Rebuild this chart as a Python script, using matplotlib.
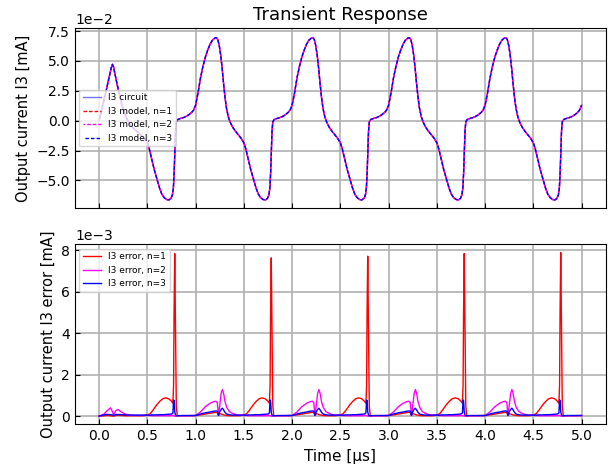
import numpy as np
import matplotlib
matplotlib.use("Agg")
import matplotlib.pyplot as plt
from matplotlib.ticker import MultipleLocator

# ---------------- data ----------------
# Output current I3 in units of 1e-2 mA; time in microseconds
first_cycle_t = [0.0, 0.035, 0.07, 0.10, 0.125, 0.138, 0.15, 0.175, 0.205, 0.24, 0.28,
                 0.32, 0.37, 0.42, 0.47, 0.50, 0.52, 0.545, 0.57, 0.60, 0.625, 0.65,
                 0.675, 0.70, 0.725, 0.745, 0.76, 0.77, 0.778, 0.785, 0.792, 0.80,
                 0.815, 0.84, 0.87, 0.90, 0.93, 0.96, 0.98]
first_cycle_i3 = [0.0, 1.2, 2.4, 3.5, 4.4, 4.72, 4.5, 3.5, 2.36, 1.2, 0.3,
                  -0.3, -0.75, -1.1, -1.5, -1.85, -2.35, -3.2, -4.05, -4.9, -5.6, -6.15,
                  -6.45, -6.6, -6.63, -6.5, -6.2, -5.6, -4.3, -2.5, -0.9, -0.1,
                  0.1, 0.18, 0.25, 0.35, 0.5, 0.7, 0.9]

cycle_phase = [0.0, 0.025, 0.05, 0.075, 0.10, 0.125, 0.15, 0.175, 0.20, 0.215, 0.23,
               0.245, 0.26, 0.275, 0.29, 0.305, 0.32, 0.34, 0.36, 0.385, 0.41, 0.44,
               0.47, 0.50, 0.52, 0.545, 0.57, 0.60, 0.625, 0.65, 0.675, 0.70, 0.725,
               0.745, 0.76, 0.77, 0.778, 0.785, 0.792, 0.80, 0.815, 0.84, 0.87, 0.90,
               0.93, 0.96, 0.98]
cycle_i3 = [1.3, 2.3, 3.55, 4.5, 5.3, 5.9, 6.4, 6.75, 6.92, 6.95, 6.8,
            6.3, 5.5, 4.4, 3.1, 1.95, 1.05, 0.3, -0.15, -0.55, -0.85, -1.15,
            -1.45, -1.85, -2.35, -3.2, -4.05, -4.9, -5.6, -6.15, -6.45, -6.6, -6.63,
            -6.5, -6.2, -5.6, -4.3, -2.5, -0.9, -0.1, 0.1, 0.18, 0.25, 0.35,
            0.5, 0.7, 0.9]
cycle_starts = [1.0, 2.0, 3.0, 4.0]
end_t = 5.0
end_i3 = 1.3

# Errors in units of 1e-3 mA
err_first_t = [0.0, 0.05, 0.08, 0.10, 0.12, 0.14, 0.15, 0.17, 0.196, 0.23, 0.27, 0.32,
               0.40, 0.45]
err1_first = [0.0, 0.02, 0.03, 0.03, 0.02, 0.01, 0.0, 0.03, 0.04, 0.03, 0.02, 0.02,
              0.02, 0.02]
err2_first = [0.0, 0.1, 0.25, 0.33, 0.4, 0.2, 0.05, 0.25, 0.32, 0.2, 0.1, 0.05,
              0.03, 0.03]
err3_first = [0.0, 0.06, 0.08, 0.08, 0.07, 0.05, 0.03, 0.07, 0.08, 0.07, 0.06, 0.05,
              0.05, 0.05]

err_phase = [0.0, 0.05, 0.10, 0.15, 0.19, 0.21, 0.225, 0.237, 0.25, 0.265, 0.278,
             0.29, 0.305, 0.323, 0.35, 0.375, 0.42, 0.45, 0.50, 0.53, 0.56, 0.60,
             0.63, 0.66, 0.69, 0.72, 0.75, 0.765, 0.772, 0.777, 0.784, 0.792,
             0.800, 0.81, 0.85, 0.95]
err1_cycle = [0.03, 0.06, 0.1, 0.14, 0.17, 0.18, 0.17, 0.05, 0.12, 0.1, 0.08,
              0.06, 0.05, 0.03, 0.02, 0.02, 0.02, 0.02, 0.05, 0.12, 0.3, 0.56,
              0.72, 0.84, 0.88, 0.84, 0.72, 0.62, 1.5, 5.0, 7.8, 4.0,
              0.5, 0.02, 0.02, 0.03]
err2_cycle = [0.03, 0.2, 0.45, 0.62, 0.7, 0.72, 0.65, 0.05, 0.5, 1.1, 1.28,
              1.1, 0.7, 0.42, 0.22, 0.15, 0.07, 0.05, 0.04, 0.03, 0.02, 0.02,
              0.02, 0.02, 0.02, 0.02, 0.03, 0.03, 0.03, 0.02, 0.0, 0.0,
              0.01, 0.02, 0.02, 0.02]
err3_cycle = [0.03, 0.1, 0.16, 0.2, 0.24, 0.25, 0.24, 0.03, 0.2, 0.33, 0.38,
              0.3, 0.18, 0.1, 0.07, 0.05, 0.05, 0.05, 0.05, 0.05, 0.06, 0.06,
              0.07, 0.07, 0.08, 0.09, 0.1, 0.15, 0.78, 0.75, 0.2, 0.05,
              0.02, 0.02, 0.03, 0.03]
# red spike height of each of the five cycles
err1_spike_peaks = [7.84, 7.63, 7.71, 7.84, 7.89]
spike_index = 30  # index in err_phase of the spike top

# ---------------- assemble series ----------------
t_top = np.concatenate([first_cycle_t] + [s + np.array(cycle_phase) for s in cycle_starts] + [[end_t]])
i3_circuit = np.concatenate([first_cycle_i3] + [cycle_i3 for _ in cycle_starts] + [[end_i3]]) * 1e-2
i3_model_n1 = i3_circuit.copy()
i3_model_n2 = i3_circuit.copy()
i3_model_n3 = i3_circuit.copy()

def err_series(first, cycle, peaks=None):
    ph = np.array(err_phase)
    tail = ph > 0.45
    ts = [np.array(err_first_t), ph[tail]]
    first_tail = np.array(cycle, dtype=float)[tail].copy()
    if peaks is not None:
        first_tail[spike_index - np.argmax(tail)] = peaks[0]
    vs = [np.array(first), first_tail]
    for k, s in enumerate(cycle_starts):
        c = np.array(cycle, dtype=float).copy()
        if peaks is not None:
            c[spike_index] = peaks[k + 1]
        ts.append(s + ph)
        vs.append(c)
    ts.append([end_t])
    vs.append([cycle[0]])
    return np.concatenate(ts), np.concatenate(vs) * 1e-3

t_err, err_n1 = err_series(err1_first, err1_cycle, err1_spike_peaks)
_, err_n2 = err_series(err2_first, err2_cycle)
_, err_n3 = err_series(err3_first, err3_cycle)

# ---------------- plot ----------------
fig = plt.figure(figsize=(6.14, 4.70), dpi=100)
ax1 = fig.add_axes([0.1221, 0.5574, 0.8644, 0.3830])
ax2 = fig.add_axes([0.1221, 0.0972, 0.8644, 0.3830], sharex=ax1)

dash = (2.5, 1.5)
ax1.plot(t_top, i3_circuit, color="blue", alpha=0.55, lw=1.0, label="I3 circuit")
ax1.plot(t_top, i3_model_n1, color="red", ls=(0.0, dash), lw=1.0, label="I3 model, n=1")
ax1.plot(t_top, i3_model_n2, color="magenta", ls=(1.3, dash), lw=1.0, label="I3 model, n=2")
ax1.plot(t_top, i3_model_n3, color="blue", ls=(2.6, dash), lw=1.0, label="I3 model, n=3")
ax1.set_ylim(-0.0731, 0.0776)
ax1.yaxis.set_major_locator(MultipleLocator(0.025))
ax1.set_title("Transient Response", fontsize=13)
ax1.set_ylabel("Output current I3 [mA]", fontsize=10.5)
ax1.ticklabel_format(axis="y", style="sci", scilimits=(0, 0))
ax1.legend(loc="center left", fontsize=6.5)
ax1.tick_params(axis="x", labelbottom=False)

ax2.plot(t_err, err_n1, color="red", lw=1.0, label="I3 error, n=1")
ax2.plot(t_err, err_n2, color="magenta", lw=1.0, label="I3 error, n=2")
ax2.plot(t_err, err_n3, color="blue", lw=1.0, label="I3 error, n=3")
ax2.set_ylabel("Output current I3 error [mA]", fontsize=10.5)
ax2.set_xlabel("Time [µs]", fontsize=11)
ax2.ticklabel_format(axis="y", style="sci", scilimits=(0, 0))
ax2.legend(loc="upper left", fontsize=6.5)
ax2.set_xticks(np.arange(0, 5.01, 0.5))

for ax in (ax1, ax2):
    ax.grid(True, color="#b0b0b0", lw=1.2)
    ax.tick_params(direction="in", labelsize=10)
    ax.yaxis.get_offset_text().set_fontsize(10)

fig.savefig("out.png", dpi=100)
